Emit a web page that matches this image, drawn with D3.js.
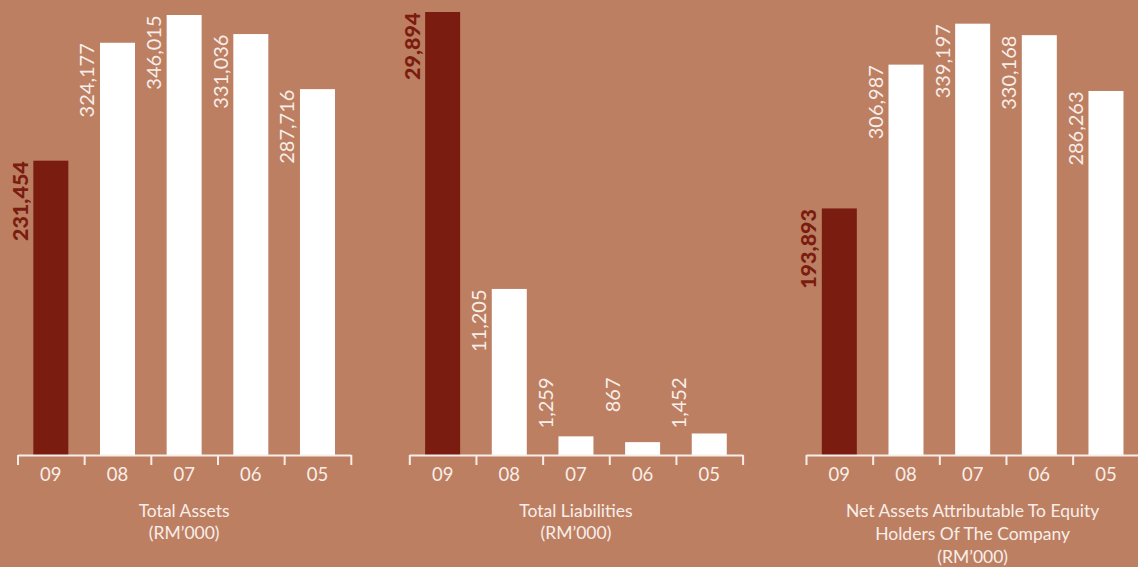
<!DOCTYPE html>
<html>
<head>
<meta charset="utf-8">
<script src="https://cdn.jsdelivr.net/npm/d3@7"></script>
<style>
  html, body { margin: 0; padding: 0; background: #BD7F62; }
  svg { display: block; }
  text { font-family: "Lato", "Open Sans", sans-serif; }
</style>
</head>
<body>
<svg id="chart" width="1138" height="567"></svg>
<script>
// ---- data ----
const years = ["09", "08", "07", "06", "05"];
const totalAssets = [231454, 324177, 346015, 331036, 287716];
const totalLiabilities = [29894, 11205, 1259, 867, 1452];
const netAssets = [193893, 306987, 339197, 330168, 286263];
const titleAssets = ["Total Assets", "(RM\u2019000)"];
const titleLiabilities = ["Total Liabilities", "(RM\u2019000)"];
const titleNet = ["Net Assets Attributable To Equity", "Holders Of The Company", "(RM\u2019000)"];

const svg = d3.select("#chart");
const dark = "#7A1C10", light = "#FFFFFF", textLight = "#F8EEE9";
const baseY = 455;

const panels = [
  { values: totalAssets, title: titleAssets, x0: 17.5, yMax: 346015, yTop: 15, minLabelGap: 0, lineGap: 22.5 },
  { values: totalLiabilities, title: titleLiabilities, x0: 409.3, yMax: 29894, yTop: 12, minLabelGap: 78, lineGap: 22.5 },
  { values: netAssets, title: titleNet, x0: 806, yMax: 346015, yTop: 15, minLabelGap: 0, lineGap: 23 }
];

const width = 333.3;

panels.forEach(p => {
  const g = svg.append("g");
  const x = d3.scaleBand().domain(years).range([p.x0, p.x0 + width]).paddingInner(0.475).paddingOuter(0.2375);
  const y = d3.scaleLinear().domain([0, p.yMax]).range([baseY, p.yTop]);
  const data = years.map((yr, i) => ({ yr, v: p.values[i], i }));

  g.selectAll("rect.bar").data(data).join("rect")
    .attr("class", "bar")
    .attr("x", d => x(d.yr))
    .attr("y", d => y(d.v))
    .attr("width", x.bandwidth())
    .attr("height", d => baseY - y(d.v))
    .attr("fill", d => d.i === 0 ? dark : light);

  // value labels
  g.selectAll("text.val").data(data).join("text")
    .attr("class", "val")
    .attr("transform", d => {
      let ty = y(d.v);
      if (p.minLabelGap) ty = Math.min(ty, baseY - p.minLabelGap);
      return `translate(${x(d.yr) - 5.5},${ty + 0.5}) rotate(-90)`;
    })
    .attr("text-anchor", "end")
    .attr("font-size", d => d.i === 0 ? 21.5 : 20)
    .attr("font-weight", d => d.i === 0 ? 900 : 400)
    .attr("fill", d => d.i === 0 ? dark : textLight)
    .text(d => d3.format(",")(d.v));

  // axis line + boundary ticks
  const xb = d3.scaleLinear().domain([0, years.length]).range([p.x0, p.x0 + width]);
  const axis = g.append("g").attr("transform", `translate(0,${baseY})`)
    .call(d3.axisBottom(xb).tickValues(d3.range(years.length + 1)).tickSize(10).tickSizeOuter(0).tickFormat(""));
  axis.selectAll("path, line").attr("stroke", textLight).attr("stroke-width", 2);

  const catAxis = g.append("g").attr("transform", `translate(0,${baseY})`)
    .call(d3.axisBottom(x).tickSize(0).tickPadding(0));
  catAxis.select(".domain").remove();
  catAxis.selectAll("text")
    .attr("dy", null).attr("y", 26)
    .attr("font-size", 18.5).attr("font-weight", 400)
    .attr("font-family", "Lato, sans-serif")
    .attr("fill", textLight);

  // title
  const cx = p.x0 + width / 2;
  const t = g.append("text").attr("text-anchor", "middle").attr("font-size", 17.5).attr("font-weight", 400).attr("fill", textLight);
  p.title.forEach((line, k) => {
    t.append("tspan").attr("x", cx).attr("y", 516.5 + k * p.lineGap).text(line);
  });
});
</script>
</body>
</html>
